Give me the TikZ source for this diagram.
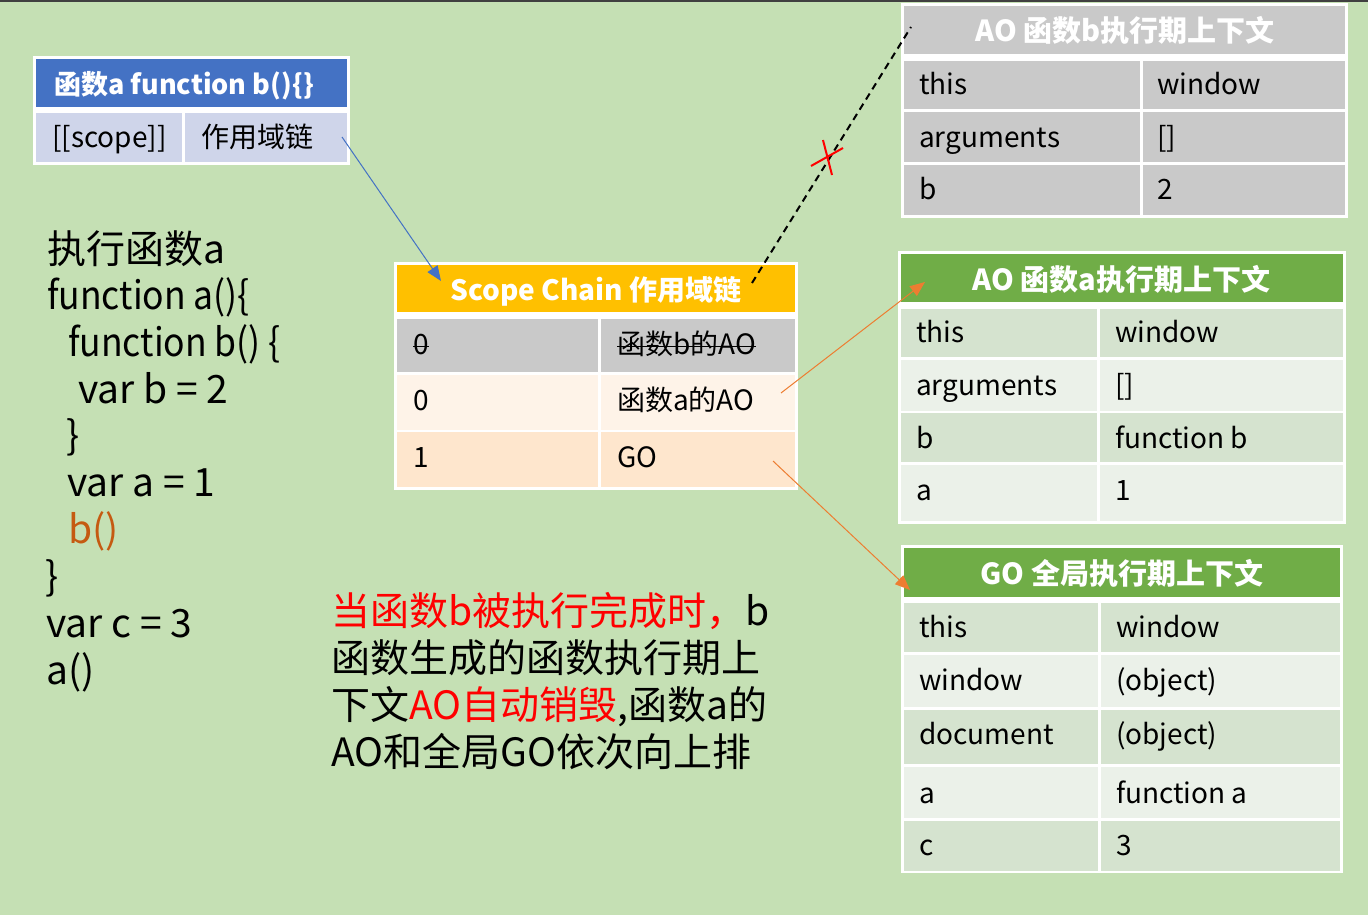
\documentclass[tikz,border=0pt]{standalone}
\usepackage{fontspec}
\setmainfont{Noto Sans CJK SC}
\newfontfamily\narrowfn[FakeStretch=0.91]{Noto Sans CJK SC}
\usetikzlibrary{arrows.meta}
\newsavebox\mystrkbox
\newcommand\mystrike[1]{\sbox\mystrkbox{#1}\usebox\mystrkbox\hspace{-\wd\mystrkbox}\rule[0.25em]{\wd\mystrkbox}{1.3pt}}
\definecolor{bg}{HTML}{C5E0B4}
\definecolor{topline}{HTML}{404040}
\definecolor{hblue}{HTML}{4472C4}
\definecolor{rblue}{HTML}{CFD5EA}
\definecolor{hyellow}{HTML}{FFC000}
\definecolor{gcell}{HTML}{C9C9C9}
\definecolor{pk1}{HTML}{FEF3E8}
\definecolor{pk2}{HTML}{FEE6CD}
\definecolor{hgreen}{HTML}{70AD47}
\definecolor{gd}{HTML}{D5E3CF}
\definecolor{gl}{HTML}{EBF1E9}
\definecolor{aorange}{HTML}{ED7D31}
\definecolor{corange}{HTML}{C55A11}
\begin{document}
\begin{tikzpicture}[x=1pt,y=-1pt,
  cell/.style={anchor=base west, inner sep=0pt, font=\fontsize{28}{34}\selectfont},
  head/.style={anchor=base, inner sep=0pt, text=white, font=\fontsize{29}{34}\selectfont\bfseries},
  code/.style={anchor=base west, inner sep=0pt, font=\fontsize{39}{47}\selectfont},
  arr/.style={-{Triangle[length=15pt,width=12pt]}, line width=1pt}]
\useasboundingbox (0,0) rectangle (1368,915);
\fill[bg] (0,0) rectangle (1368,915);
\fill[topline] (0,0) rectangle (1368,2);

% ---------- table: function a ----------
\fill[white] (33,56) rectangle (350,165);
\fill[hblue] (36,59) rectangle (347,107);
\fill[rblue] (36,113) rectangle (181.5,162);
\fill[rblue] (184.5,113) rectangle (347,162);
\node[head, anchor=base west, font=\fontsize{27}{32}\selectfont\bfseries] (fa) at (54,95) {函数a function b()\{\}};
\node[cell] (fscope) at (52,147) {[[scope]]};
\node[cell] (fchain) at (201,147) {作用域链};

% ---------- table: scope chain ----------
\fill[white] (394,262) rectangle (798,490);
\fill[hyellow] (397,265) rectangle (795,312);
\fill[gcell] (397,319) rectangle (597.5,372);
\fill[gcell] (600.5,319) rectangle (795,372);
\fill[pk1] (397,374.5) rectangle (597.5,429.5);
\fill[pk1] (600.5,374.5) rectangle (795,429.5);
\fill[pk2] (397,432) rectangle (597.5,487);
\fill[pk2] (600.5,432) rectangle (795,487);
\node[head, font=\fontsize{28}{33}\selectfont\bfseries] (sc) at (596,300) {Scope Chain 作用域链};
\node[cell] (s0a) at (413,354) {\mystrike{0}};
\node[cell] (s0b) at (617,354) {\mystrike{函数b的AO}};
\node[cell] (s1a) at (413,410) {0};
\node[cell] (s1b) at (617,410) {函数a的AO};
\node[cell] (s2a) at (413,467) {1};
\node[cell] (s2b) at (617,467) {GO};

% ---------- table: AO b ----------
\fill[white] (901,3) rectangle (1348,218);
\fill[gcell] (904,6) rectangle (1345,54);
\fill[gcell] (904,61) rectangle (1139.5,109.5);
\fill[gcell] (1142.5,61) rectangle (1345,109.5);
\fill[gcell] (904,112.5) rectangle (1139.5,162);
\fill[gcell] (1142.5,112.5) rectangle (1345,162);
\fill[gcell] (904,165) rectangle (1139.5,215);
\fill[gcell] (1142.5,165) rectangle (1345,215);
\node[head] (aob) at (1125,42) {AO 函数b执行期上下文};
\node[cell] (b1a) at (919,95) {this};
\node[cell] (b1b) at (1157,95) {window};
\node[cell] (b2a) at (919,147) {arguments};
\node[cell] (b2b) at (1157,147) {[]};
\node[cell] (b3a) at (919,199) {b};
\node[cell] (b3b) at (1157,199) {2};

% ---------- table: AO a ----------
\fill[white] (898,251) rectangle (1345.5,524);
\fill[hgreen] (901,254) rectangle (1342.5,302);
\fill[gd] (901,309) rectangle (1097,357);
\fill[gd] (1100,309) rectangle (1342.5,357);
\fill[gl] (901,359.5) rectangle (1097,410.5);
\fill[gl] (1100,359.5) rectangle (1342.5,410.5);
\fill[gd] (901,413) rectangle (1097,462);
\fill[gd] (1100,413) rectangle (1342.5,462);
\fill[gl] (901,465) rectangle (1097,521);
\fill[gl] (1100,465) rectangle (1342.5,521);
\node[head] (aoa) at (1121.5,290) {AO 函数a执行期上下文};
\node[cell] (a1a) at (916,342) {this};
\node[cell] (a1b) at (1115,342) {window};
\node[cell] (a2a) at (916,395) {arguments};
\node[cell] (a2b) at (1115,395) {[]};
\node[cell] (a3a) at (916,448) {b};
\node[cell] (a3b) at (1115,448) {function b};
\node[cell] (a4a) at (916,500) {a};
\node[cell] (a4b) at (1115,500) {1};

% ---------- table: GO ----------
\fill[white] (901,545) rectangle (1343,873);
\fill[hgreen] (904,548) rectangle (1340,597);
\fill[gd] (904,603) rectangle (1097.5,652);
\fill[gd] (1100.5,603) rectangle (1340,652);
\fill[gl] (904,654.5) rectangle (1097.5,707);
\fill[gl] (1100.5,654.5) rectangle (1340,707);
\fill[gd] (904,709.5) rectangle (1097.5,764);
\fill[gd] (1100.5,709.5) rectangle (1340,764);
\fill[gl] (904,767) rectangle (1097.5,818);
\fill[gl] (1100.5,767) rectangle (1340,818);
\fill[gd] (904,820.5) rectangle (1097.5,870.5);
\fill[gd] (1100.5,820.5) rectangle (1340,870.5);
\node[head] (go) at (1122,584) {GO 全局执行期上下文};
\node[cell] (g1a) at (919,637) {this};
\node[cell] (g1b) at (1116,637) {window};
\node[cell] (g2a) at (919,690) {window};
\node[cell] (g2b) at (1116,690) {(object)};
\node[cell] (g3a) at (919,744) {document};
\node[cell] (g3b) at (1116,744) {(object)};
\node[cell] (g4a) at (919,803) {a};
\node[cell] (g4b) at (1116,803) {function a};
\node[cell] (g5a) at (919,855) {c};
\node[cell] (g5b) at (1116,855) {3};

% ---------- code ----------
\node[code] (c1) at (47,263) {执行函数a};
\node[code] (c2) at (47,309.5) {\narrowfn function a()\{};
\node[code] (c3) at (68,356) {\narrowfn function b() \{};
\node[code] (c4) at (78,403) {var b = 2};
\node[code] (c5) at (66,449.5) {\}};
\node[code] (c6) at (67,496) {var a = 1};
\node[code, text=corange] (c7) at (68,543) {b()};
\node[code] (c8) at (45,590) {\}};
\node[code] (c9) at (46,637) {var c = 3};
\node[code] (c10) at (46,684) {a()};

% ---------- note ----------
\node[code] (t1) at (331,625) {{\color{red}当函数b被执行完成时，}b};
\node[code] (t2) at (331,672) {函数生成的函数执行期上};
\node[code] (t3) at (331,719) {下文{\color{red}AO自动销毁},函数a的};
\node[code] (t4) at (331,766) {AO和全局GO依次向上排};

% ---------- connectors ----------
\coordinate (p1) at (342,137);
\coordinate (p2) at (441,281);
\coordinate (p3) at (752,283);
\coordinate (p4) at (911,27);
\coordinate (p5) at (781,393);
\coordinate (p6) at (925,282);
\coordinate (p7) at (773,461);
\coordinate (p8) at (910,590);
\draw[arr, hblue] (p1) -- (p2);
\draw[black, line width=2pt, dash pattern=on 7pt off 5pt] (p3) -- (p4);
\draw[red, line width=2pt] (811,166) -- (843,148) (823,140) -- (832,175);
\draw[arr, aorange] (p5) -- (p6);
\draw[arr, aorange] (p7) -- (p8);
\end{tikzpicture}
\end{document}
